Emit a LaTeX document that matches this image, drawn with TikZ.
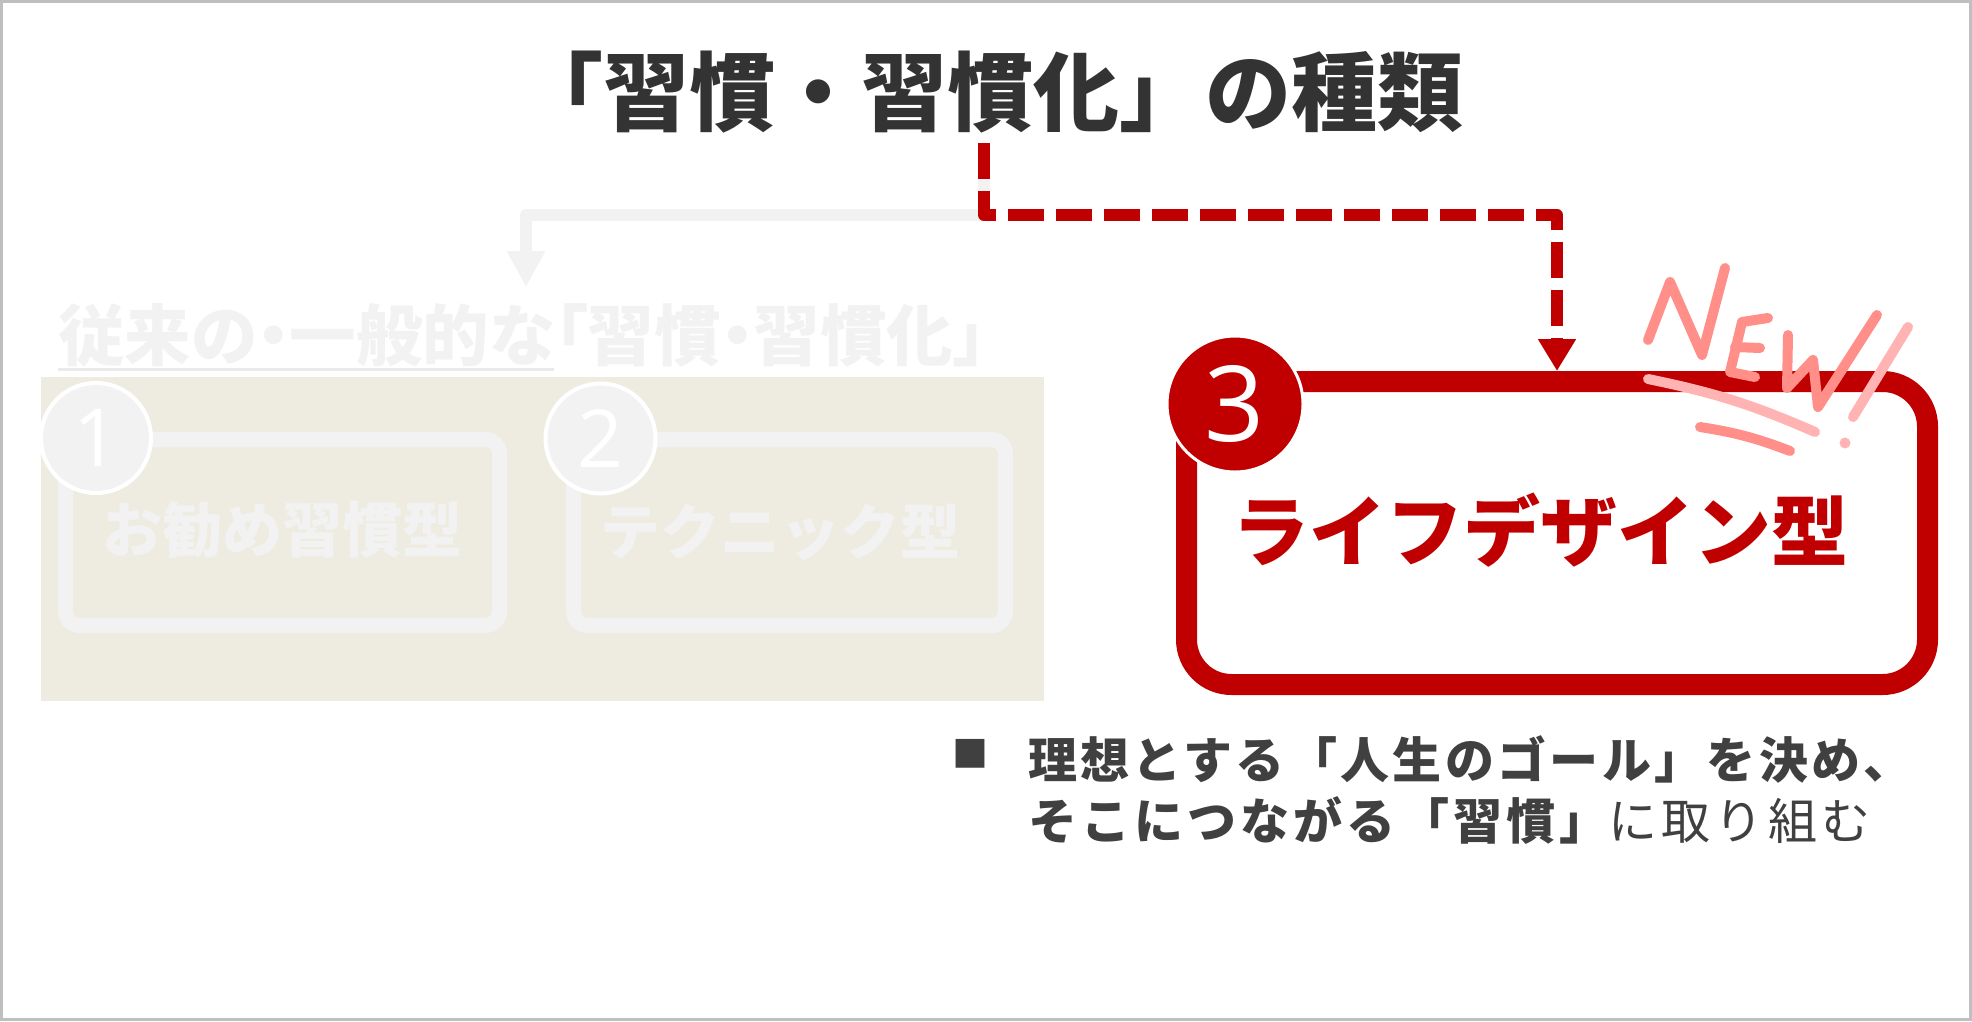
\documentclass[tikz,border=0pt]{standalone}
\usepackage{fontspec}
\usetikzlibrary{arrows.meta}
\newfontfamily\jp{Noto Sans CJK JP}
\newfontfamily\jpp[CharacterWidth=AlternateProportional]{Noto Sans CJK JP}
\newfontfamily\numf{Open Sans}
\definecolor{ink}{HTML}{333333}
\definecolor{ink2}{HTML}{404040}
\definecolor{myred}{HTML}{C00000}
\definecolor{pale}{HTML}{F2F2F2}
\definecolor{paleline}{HTML}{EAEAEA}
\definecolor{beige}{HTML}{EEECE1}
\definecolor{pinkA}{HTML}{FF8F88}
\definecolor{pinkB}{HTML}{FFB3B3}
\definecolor{framec}{HTML}{BFBFBF}
\newcommand{\fsz}[1]{\fontsize{#1pt}{#1pt}\selectfont}
\begin{document}
\begin{tikzpicture}[x=1pt,y=-1pt,
  txt/.style={inner sep=0pt, outer sep=0pt},
  typebox/.style={draw=pale, rounded corners=14pt, inner sep=0pt, line width=15pt},
  numcirc/.style={circle, inner sep=0pt, text=white},
  doodle/.style={line width=10pt, line cap=round, line join=round},
]
\useasboundingbox (0,0) rectangle (1972,1021);
\fill[white] (0,0) rectangle (1972,1021);

% title
\node[txt, text=ink, font={\jp\bfseries\fsz{86}}] (title) at (990,92) {「習慣・習慣化」の種類};
\coordinate (top) at (984,143);
\coordinate (gtip) at (526,287);

% left panel
\fill[beige] (41,377) rectangle (1044,701);
\node[typebox, minimum width=434pt, minimum height=186pt] (b1) at (282.5,532.5) {};
\node[typebox, minimum width=432pt, minimum height=186pt] (b2) at (789.5,532.5) {};
\node[txt, text=pale, font={\jp\bfseries\fsz{60}}] (l1) at (282,530) {お勧め習慣型};
\node[txt, text=pale, font={\jp\bfseries\fsz{60}}] (l2) at (780,532) {テクニック型};
\node[numcirc, fill=pale, draw=white, line width=4pt, minimum size=110pt, font={\numf\fsz{80}}] (c1) at (96,438) {1};
\node[numcirc, fill=pale, draw=white, line width=4pt, minimum size=110pt, font={\numf\fsz{80}}] (c2) at (600.5,438.5) {2};

% heading
\node[txt, anchor=base west, text=pale, font={\jpp\bfseries\fsz{66.5}}] (h1) at (58,360) {従来の・一般的な};
\node[txt, anchor=base west, text=pale, font={\jpp\bfseries\fsz{66.5}}] (h2) at (h1.base east) {「習慣・習慣化」};
\draw[paleline, line width=3pt] ([yshift=-9pt]h1.base west) -- ([yshift=-9pt]h1.base east);

% connectors
\draw[pale, line width=12pt, line join=round, -{Triangle[width=36pt,length=36pt]}]
  (top) -- ++(0,72) -| (gtip);

% red box
\node[draw=myred, line width=21pt, rounded corners=45pt, minimum width=741pt, minimum height=303pt, inner sep=0pt] (b3) at (1557,533) {};
\draw[myred, line width=12pt, line join=round, dash pattern=on 36pt off 12pt, -{Triangle[width=36pt,length=32pt]}]
  (top) -- ++(0,72) -| (b3.north);
\node[txt, text=myred, font={\jp\bfseries\fsz{77}}] (l3) at (1540,530) {ライフデザイン型};
\node[numcirc, fill=myred, draw=white, line width=3pt, minimum size=136pt, font={\numf\fsz{105}}] (c3) at (1235,404) {3};

% NEW doodle
\draw[doodle, pinkA] (1648,340) -- (1670,282) -- (1702,355) -- (1725,268);
\draw[doodle, pinkA] (1768,318) -- (1742,322) -- (1730,372) -- (1755,377);
\draw[doodle, pinkA] (1735,347) -- (1760,348);
\draw[doodle, pinkA] (1788,335) -- (1787,388) -- (1813,360) -- (1818,407) -- (1877,315);
\draw[doodle, pinkB] (1908,327) -- (1853,417);
\fill[pinkB] (1845,443) circle (5.5pt);
\draw[doodle, pinkB] (1648,379) to[bend left=6] (1815,432);
\draw[doodle, pinkA] (1700,427) to[bend left=6] (1790,451);

% bullet text
\node[txt, text=ink2, font={\jp\fsz{36}}] (bul) at (970.5,753.5) {■};
\node[txt, anchor=west, text=ink2, font={\jp\bfseries\fsz{49}\addfontfeatures{LetterSpace=6.8}}] (t1) at (1028,759) {理想とする「人生のゴール」を決め、};
\node[txt, anchor=west, text=ink2, font={\jp\fsz{49}\addfontfeatures{LetterSpace=8.5}}] (t2) at (1028,820) {{\bfseries そこにつながる「習慣」}に取り組む};

% frame
\draw[framec, line width=3pt] (1.5,1.5) rectangle (1970.5,1019.5);
\end{tikzpicture}
\end{document}
